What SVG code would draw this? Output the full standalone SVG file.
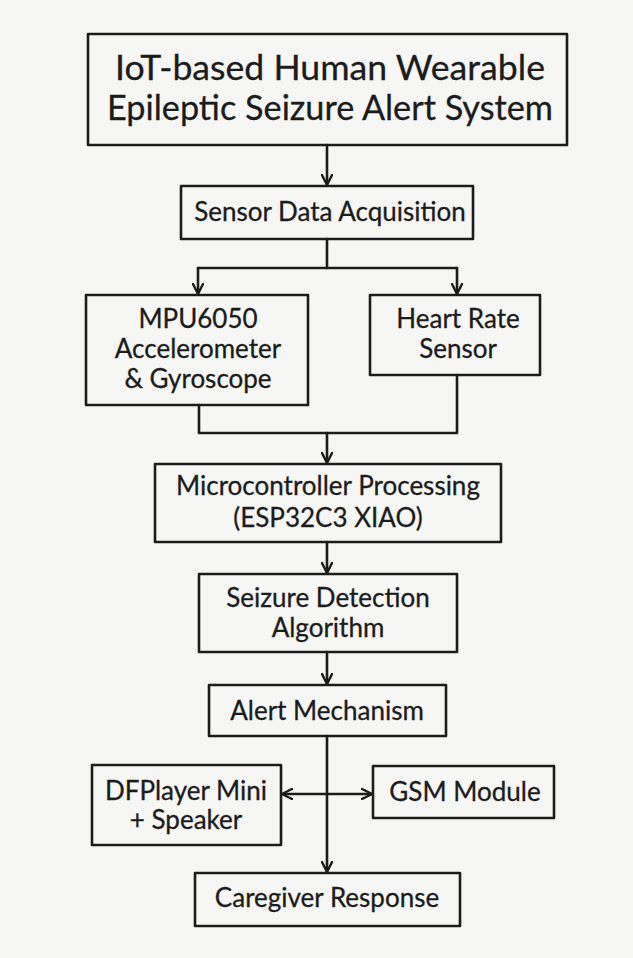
<svg xmlns="http://www.w3.org/2000/svg" width="633" height="958" viewBox="0 0 633 958">
<defs>
<style>
.bg{fill:#f6f6f4}
.box{fill:none;stroke:#1c1c1c;stroke-width:2.6;stroke-linejoin:round}
.t{font-family:Lato,"Open Sans",sans-serif;fill:#1c1c1c;text-anchor:middle;font-size:26px;stroke:#1c1c1c;stroke-width:0.3}
.title{font-size:35px}
.c{fill:none;stroke:#1c1c1c;stroke-width:2.6;stroke-linecap:round;stroke-linejoin:round}
</style>
<marker id="ah" viewBox="0 0 12 12" refX="11" refY="6" markerWidth="12" markerHeight="12" markerUnits="userSpaceOnUse" orient="auto-start-reverse">
<path d="M1,1 L11,6 L1,11" fill="none" stroke="#1c1c1c" stroke-width="2.4" stroke-linecap="round" stroke-linejoin="round"/>
</marker>
</defs>
<rect class="bg" x="0" y="0" width="633" height="958"/>
<g id="connectors">
<line class="c" x1="327" y1="145" x2="327" y2="185" marker-end="url(#ah)"/>
<path class="c" d="M327,239 V268"/>
<path class="c" d="M198,268 H457"/>
<line class="c" x1="198" y1="268" x2="198" y2="294" marker-end="url(#ah)"/>
<line class="c" x1="457" y1="268" x2="457" y2="294" marker-end="url(#ah)"/>
<path class="c" d="M199,405 V433 H457 V375"/>
<line class="c" x1="327" y1="433" x2="327" y2="463" marker-end="url(#ah)"/>
<line class="c" x1="327" y1="542" x2="327" y2="573" marker-end="url(#ah)"/>
<line class="c" x1="327" y1="652" x2="327" y2="684" marker-end="url(#ah)"/>
<line class="c" x1="327" y1="736" x2="327" y2="872" marker-end="url(#ah)"/>
<line class="c" x1="282" y1="794" x2="372" y2="794" marker-start="url(#ah)" marker-end="url(#ah)"/>
</g>
<g id="title">
<rect class="box" x="88" y="34" width="479" height="111"/>
<text class="t title" x="330" y="80" textLength="430" lengthAdjust="spacingAndGlyphs">IoT-based Human Wearable</text>
<text class="t title" x="330" y="120" textLength="446" lengthAdjust="spacingAndGlyphs">Epileptic Seizure Alert System</text>
</g>
<g id="sensor">
<rect class="box" x="181" y="186" width="292" height="53"/>
<text class="t" x="330" y="221">Sensor Data Acquisition</text>
</g>
<g id="mpu">
<rect class="box" x="86" y="295" width="222" height="110"/>
<text class="t" x="198" y="328">MPU6050</text>
<text class="t" x="198" y="358">Accelerometer</text>
<text class="t" x="198" y="388">&amp; Gyroscope</text>
</g>
<g id="heart">
<rect class="box" x="370" y="295" width="170" height="80"/>
<text class="t" x="458" y="328">Heart Rate</text>
<text class="t" x="458" y="358">Sensor</text>
</g>
<g id="micro">
<rect class="box" x="155" y="464" width="346" height="78"/>
<text class="t" x="328" y="495">Microcontroller Processing</text>
<text class="t" x="328" y="527">(ESP32C3 XIAO)</text>
</g>
<g id="detect">
<rect class="box" x="199" y="574" width="258" height="78"/>
<text class="t" x="328" y="607">Seizure Detection</text>
<text class="t" x="328" y="637">Algorithm</text>
</g>
<g id="alert">
<rect class="box" x="209" y="685" width="237" height="51"/>
<text class="t" x="327" y="720">Alert Mechanism</text>
</g>
<g id="dfplayer">
<rect class="box" x="92" y="765" width="189" height="80"/>
<text class="t" x="186" y="800">DFPlayer Mini</text>
<text class="t" x="186" y="829">+ Speaker</text>
</g>
<g id="gsm">
<rect class="box" x="373" y="766" width="181" height="52"/>
<text class="t" x="465" y="801">GSM Module</text>
</g>
<g id="caregiver">
<rect class="box" x="195" y="873" width="265" height="53"/>
<text class="t" x="327" y="907">Caregiver Response</text>
</g>
</svg>
